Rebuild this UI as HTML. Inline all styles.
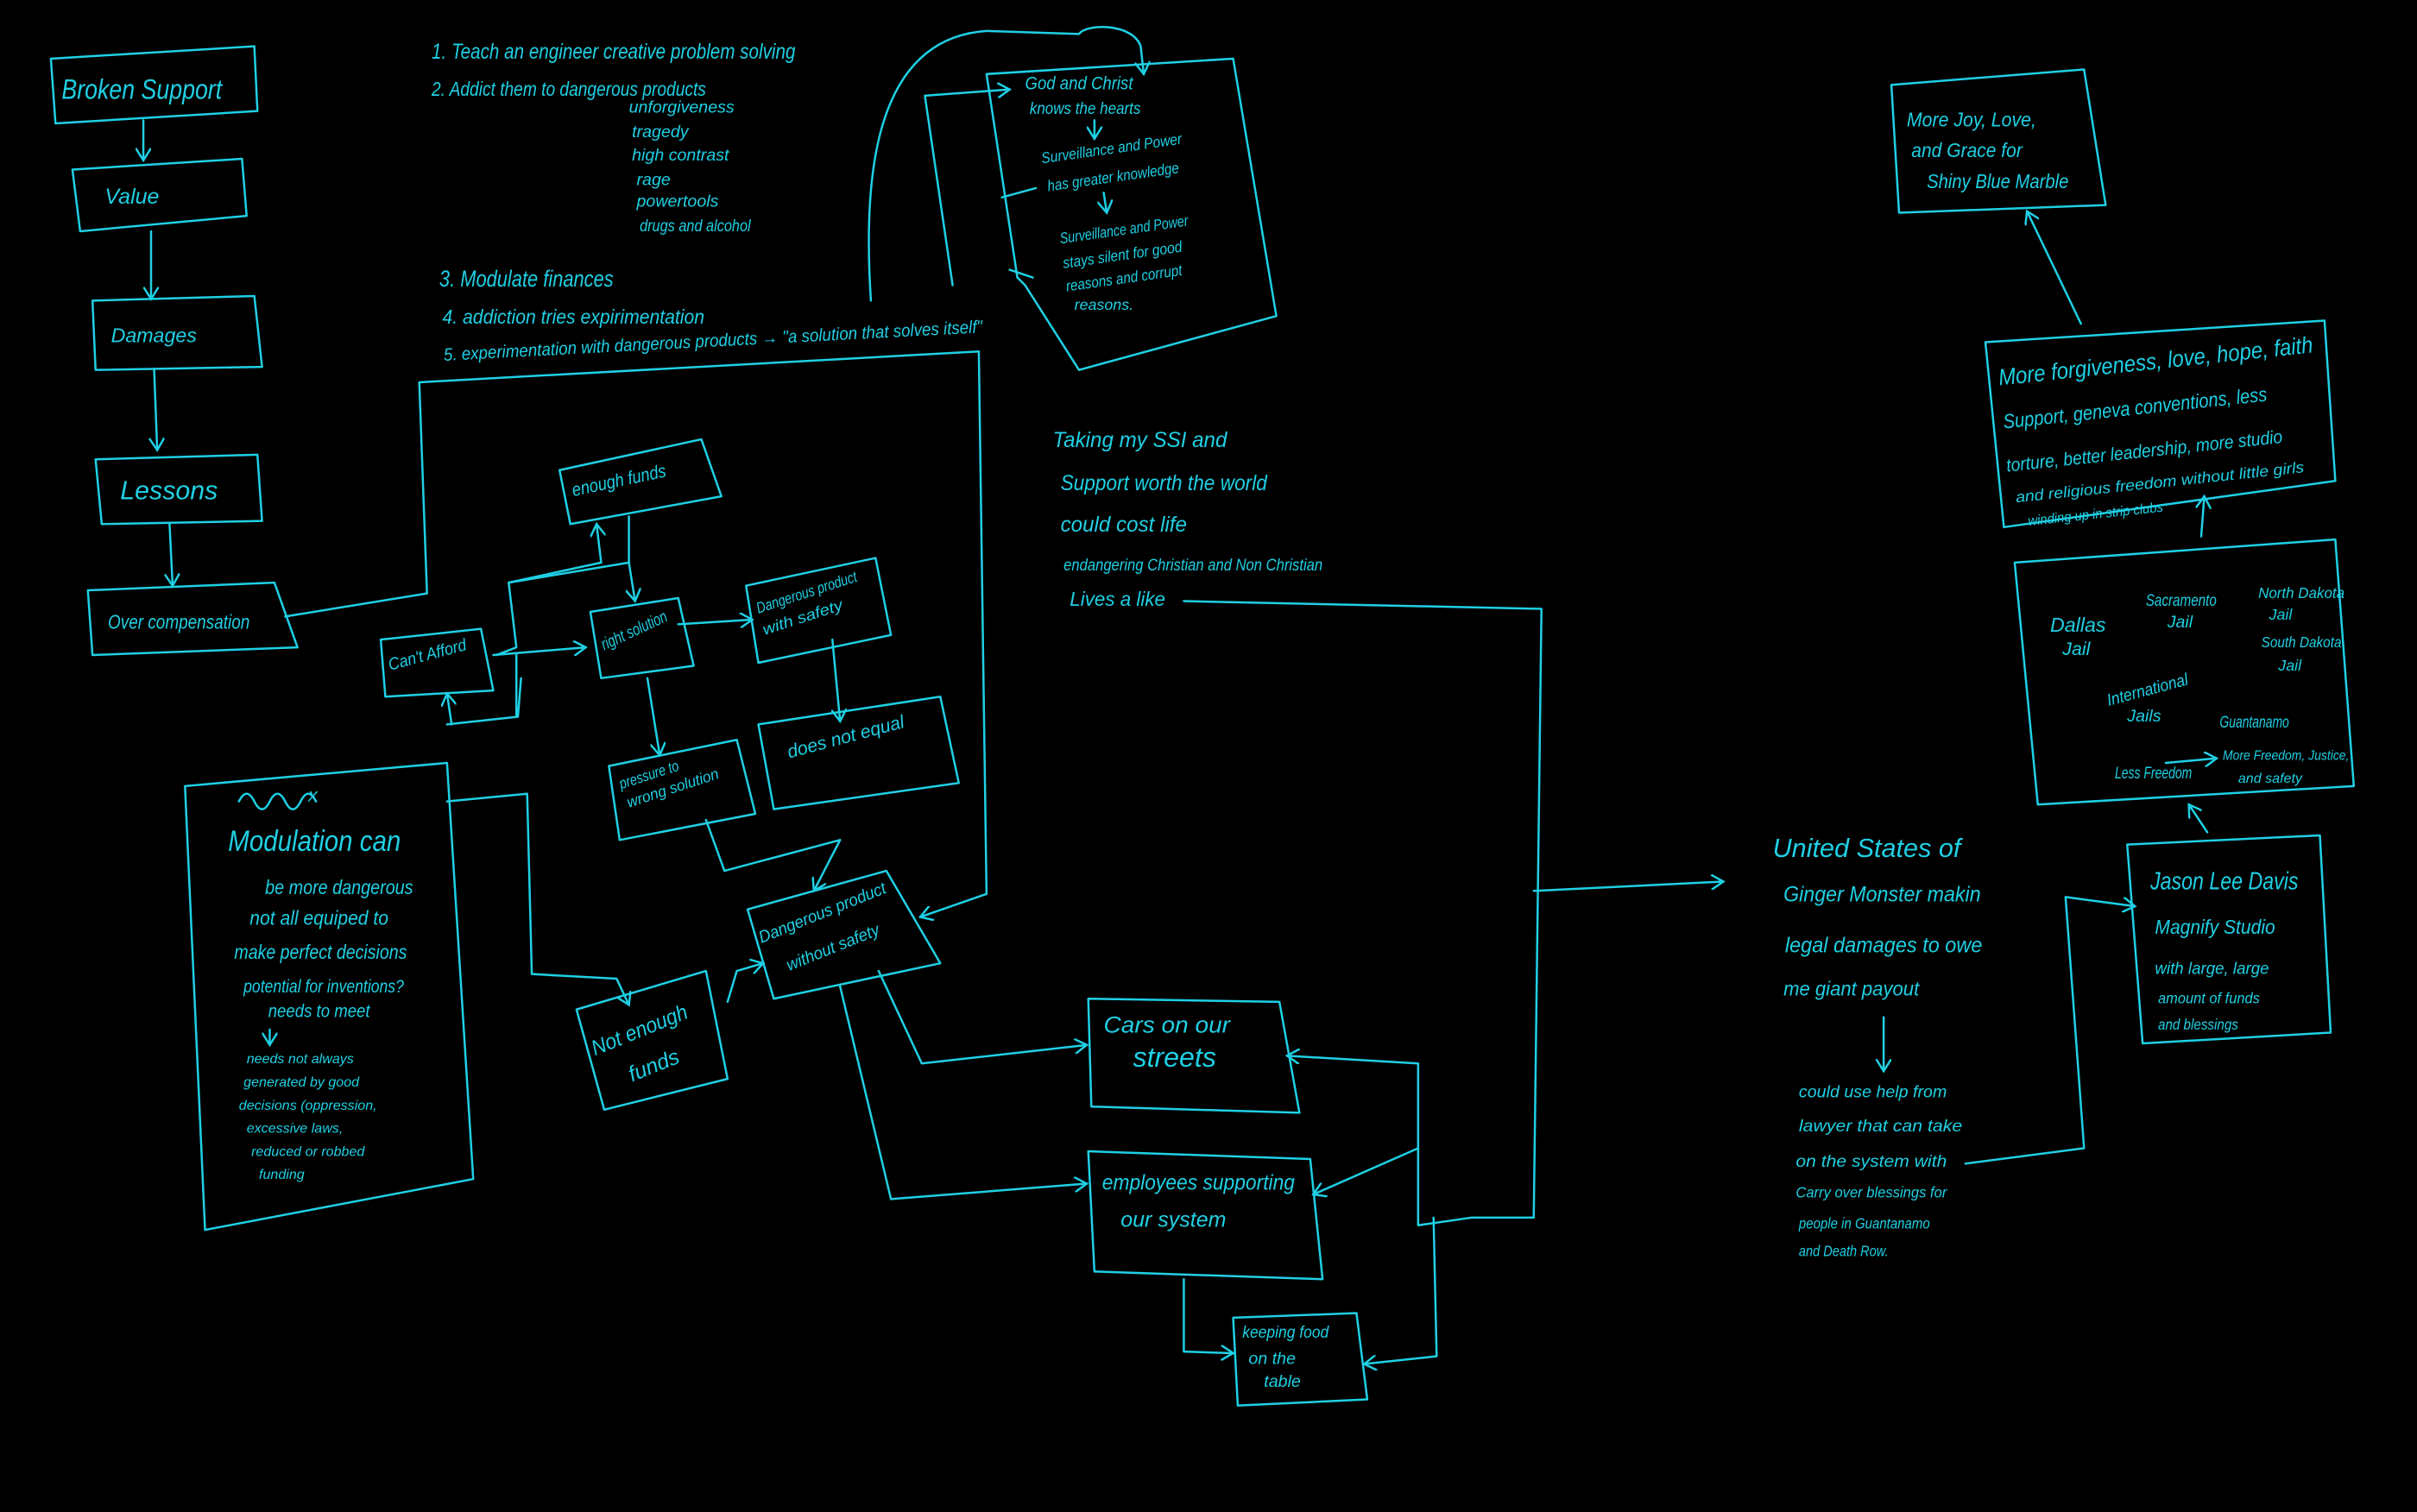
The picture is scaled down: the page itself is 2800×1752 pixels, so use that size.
<!DOCTYPE html>
<html><head><meta charset="utf-8"><style>
html,body{margin:0;padding:0;background:#000;}
svg{display:block}
text{font-family:"Liberation Sans",sans-serif;fill:#1fd0e4;font-style:italic}
.l{fill:none;stroke:#1fd0e4;stroke-width:1.4;stroke-linejoin:round;stroke-linecap:round}
</style></head><body>
<svg width="2800" height="1752" viewBox="0 0 1568 981" xmlns="http://www.w3.org/2000/svg">
<defs><marker id="a" markerWidth="10" markerHeight="10" refX="8" refY="5" orient="auto" markerUnits="userSpaceOnUse"><path d="M0,0 L8,5 L0,10" fill="none" stroke="#1fd0e4" stroke-width="1.4"/></marker></defs>
<rect width="1568" height="981" fill="#000"/>
<g class="l">
<path d="M33,38 L165,30 L167,72 L36,80 Z"/>
<path d="M47,110 L157,103 L160,140 L52,150 Z"/>
<path d="M60,195 L165,192 L170,238 L62,240 Z"/>
<path d="M62,298 L167,295 L170,338 L66,340 Z"/>
<path d="M57,383 L178,378 L193,420 L60,425 Z"/>
<path d="M93,78 L93,104" marker-end="url(#a)"/>
<path d="M98,150 L98,194" marker-end="url(#a)"/>
<path d="M100,240 L102,292" marker-end="url(#a)"/>
<path d="M110,340 L112,380" marker-end="url(#a)"/>
<path d="M185,400 L277,385 L272,248 L635,228 L640,580 L597,595" marker-end="url(#a)"/>
<path d="M640,48 L800,38 L828,205 L700,240 L665,185 L660,180 Z"/>
<path d="M565,195 C560,120 565,25 640,20 L700,22 C705,15 735,15 740,30 L742,48" marker-end="url(#a)"/>
<path d="M618,185 L600,62 L655,58" marker-end="url(#a)"/>
<path d="M710,78 L710,90" marker-end="url(#a)"/>
<path d="M716,125 L718,138" marker-end="url(#a)"/>
<path d="M650,128 L672,122"/>
<path d="M655,175 L670,180"/>
<path d="M363,305 L455,285 L468,322 L370,340 Z"/>
<path d="M383,397 L440,388 L450,432 L390,440 Z"/>
<path d="M484,380 L568,362 L578,412 L492,430 Z"/>
<path d="M247,415 L312,408 L320,448 L250,452 Z"/>
<path d="M492,470 L610,452 L622,508 L502,525 Z"/>
<path d="M395,497 L478,480 L490,528 L402,545 Z"/>
<path d="M485,590 L575,565 L610,625 L502,648 Z"/>
<path d="M374,655 L458,630 L472,700 L392,720 Z"/>
<path d="M706,648 L830,650 L843,722 L708,718 Z"/>
<path d="M706,747 L850,752 L858,830 L710,825 Z"/>
<path d="M800,855 L880,852 L887,908 L803,912 Z"/>
<path d="M120,510 L290,495 L307,765 L133,798 Z"/>
<path d="M408,335 L408,365 L330,378 L335,420 L322,425" />
<path d="M408,365 L412,390" marker-end="url(#a)"/>
<path d="M330,378 L390,365 L387,340" marker-end="url(#a)"/>
<path d="M320,425 L380,420" marker-end="url(#a)"/>
<path d="M440,405 L488,402" marker-end="url(#a)"/>
<path d="M540,415 L545,468" marker-end="url(#a)"/>
<path d="M420,440 L428,490" marker-end="url(#a)"/>
<path d="M458,532 L470,565 L545,545 L528,578" marker-end="url(#a)"/>
<path d="M290,470 L336,465 L338,440 M335,465 L335,425"/>
<path d="M293,470 L290,450" marker-end="url(#a)"/>
<path d="M290,520 L342,515 L345,632 L400,635 L408,652" marker-end="url(#a)"/>
<path d="M472,650 L478,630 L495,625" marker-end="url(#a)"/>
<path d="M570,630 L598,690 L705,678" marker-end="url(#a)"/>
<path d="M545,640 L578,778 L705,768" marker-end="url(#a)"/>
<path d="M768,830 L768,877 L800,878" marker-end="url(#a)"/>
<path d="M768,390 L1000,395 L995,790 L955,790"/>
<path d="M955,790 L920,795 L920,690 L835,685" marker-end="url(#a)"/>
<path d="M920,745 L852,775" marker-end="url(#a)"/>
<path d="M930,790 L932,880 L885,885" marker-end="url(#a)"/>
<path d="M995,578 L1118,572" marker-end="url(#a)"/>
<path d="M1227,55 L1352,45 L1366,133 L1232,138 Z"/>
<path d="M1288,222 L1508,208 L1515,312 L1300,342 Z"/>
<path d="M1307,365 L1515,350 L1527,510 L1322,522 Z"/>
<path d="M1380,548 L1505,542 L1512,670 L1390,677 Z"/>
<path d="M1350,210 L1315,137" marker-end="url(#a)"/>
<path d="M1428,348 L1430,322" marker-end="url(#a)"/>
<path d="M1432,540 L1420,522" marker-end="url(#a)"/>
<path d="M1405,495 L1438,492" marker-end="url(#a)"/>
<path d="M1275,755 L1352,745 L1340,582 L1385,588" marker-end="url(#a)"/>
<path d="M1222,660 L1222,695" marker-end="url(#a)"/>
<path d="M155,520 q5,-10 10,0 q5,10 10,0 q5,-10 10,0 q5,10 10,0 q5,-10 10,0"/>
<path d="M175,668 L175,678" marker-end="url(#a)"/>
</g>
<g font-size="11" lengthAdjust="spacingAndGlyphs">
<text x="40" y="64" font-size="18" textLength="104" lengthAdjust="spacingAndGlyphs">Broken Support</text>
<text x="68" y="132" font-size="14">Value</text>
<text x="72" y="222" font-size="13">Damages</text>
<text x="78" y="324" font-size="17">Lessons</text>
<text x="70" y="408" font-size="13" textLength="92" lengthAdjust="spacingAndGlyphs">Over compensation</text>
<text x="280" y="38" font-size="14" textLength="236" lengthAdjust="spacingAndGlyphs">1. Teach an engineer creative problem solving</text>
<text x="280" y="62" font-size="13" textLength="178" lengthAdjust="spacingAndGlyphs">2. Addict them to dangerous products</text>
<text x="408" y="73">unforgiveness</text>
<text x="410" y="89">tragedy</text>
<text x="410" y="104">high contrast</text>
<text x="413" y="120">rage</text>
<text x="413" y="134">powertools</text>
<text x="415" y="150" textLength="72" lengthAdjust="spacingAndGlyphs">drugs and alcohol</text>
<text x="285" y="186" font-size="15" textLength="113" lengthAdjust="spacingAndGlyphs">3. Modulate finances</text>
<text x="287" y="210" font-size="13" textLength="170" lengthAdjust="spacingAndGlyphs">4. addiction tries expirimentation</text>
<text x="288" y="234" font-size="11.5" transform="rotate(-3 288 234)" textLength="350" lengthAdjust="spacingAndGlyphs">5. experimentation with dangerous products → "a solution that solves itself"</text>
<text x="665" y="58" font-size="12" textLength="70" lengthAdjust="spacingAndGlyphs">God and Christ</text>
<text x="668" y="74" font-size="11" textLength="72" lengthAdjust="spacingAndGlyphs">knows the hearts</text>
<text x="676" y="106" font-size="10" transform="rotate(-8 676 106)" textLength="92" lengthAdjust="spacingAndGlyphs">Surveillance and Power</text>
<text x="680" y="124" font-size="10" transform="rotate(-8 680 124)" textLength="86" lengthAdjust="spacingAndGlyphs">has greater knowledge</text>
<text x="688" y="158" font-size="10" transform="rotate(-8 688 158)" textLength="84" lengthAdjust="spacingAndGlyphs">Surveillance and Power</text>
<text x="690" y="174" font-size="10" transform="rotate(-8 690 174)" textLength="78" lengthAdjust="spacingAndGlyphs">stays silent for good</text>
<text x="692" y="189" font-size="10" transform="rotate(-8 692 189)" textLength="76" lengthAdjust="spacingAndGlyphs">reasons and corrupt</text>
<text x="697" y="201" font-size="10">reasons.</text>
<text x="683" y="290" font-size="14" textLength="113" lengthAdjust="spacingAndGlyphs">Taking my SSI and</text>
<text x="688" y="318" font-size="14" textLength="134" lengthAdjust="spacingAndGlyphs">Support worth the world</text>
<text x="688" y="345" font-size="14" textLength="82" lengthAdjust="spacingAndGlyphs">could cost life</text>
<text x="690" y="370" font-size="11" textLength="168" lengthAdjust="spacingAndGlyphs">endangering Christian and Non Christian</text>
<text x="694" y="393" font-size="13" textLength="62" lengthAdjust="spacingAndGlyphs">Lives a like</text>
<text x="372" y="322" font-size="12" transform="rotate(-12 372 322)" textLength="62" lengthAdjust="spacingAndGlyphs">enough funds</text>
<text x="392" y="422" font-size="11" transform="rotate(-25 392 422)" textLength="46" lengthAdjust="spacingAndGlyphs">right solution</text>
<text x="492" y="398" font-size="10" transform="rotate(-18 492 398)" textLength="68" lengthAdjust="spacingAndGlyphs">Dangerous product</text>
<text x="496" y="412" font-size="10" transform="rotate(-18 496 412)" textLength="54" lengthAdjust="spacingAndGlyphs">with safety</text>
<text x="253" y="435" font-size="11" transform="rotate(-15 253 435)" textLength="52" lengthAdjust="spacingAndGlyphs">Can't Afford</text>
<text x="512" y="492" font-size="12" transform="rotate(-15 512 492)" textLength="78" lengthAdjust="spacingAndGlyphs">does not equal</text>
<text x="403" y="512" font-size="10" transform="rotate(-18 403 512)" textLength="40" lengthAdjust="spacingAndGlyphs">pressure to</text>
<text x="408" y="524" font-size="10" transform="rotate(-18 408 524)" textLength="62" lengthAdjust="spacingAndGlyphs">wrong solution</text>
<text x="494" y="612" font-size="11" transform="rotate(-22 494 612)" textLength="88" lengthAdjust="spacingAndGlyphs">Dangerous product</text>
<text x="512" y="630" font-size="11" transform="rotate(-22 512 630)" textLength="64" lengthAdjust="spacingAndGlyphs">without safety</text>
<text x="386" y="685" font-size="14" transform="rotate(-22 386 685)" textLength="66" lengthAdjust="spacingAndGlyphs">Not enough</text>
<text x="410" y="702" font-size="14" transform="rotate(-22 410 702)">funds</text>
<text x="716" y="670" font-size="15" textLength="82" lengthAdjust="spacingAndGlyphs">Cars on our</text>
<text x="735" y="692" font-size="18">streets</text>
<text x="715" y="772" font-size="14" textLength="125" lengthAdjust="spacingAndGlyphs">employees supporting</text>
<text x="727" y="796" font-size="14">our system</text>
<text x="806" y="868" font-size="11" textLength="56" lengthAdjust="spacingAndGlyphs">keeping food</text>
<text x="810" y="885" font-size="11">on the</text>
<text x="820" y="900" font-size="11">table</text>
<text x="148" y="552" font-size="19" textLength="112" lengthAdjust="spacingAndGlyphs">Modulation can</text>
<text x="172" y="580" font-size="13" textLength="96" lengthAdjust="spacingAndGlyphs">be more dangerous</text>
<text x="162" y="600" font-size="13" textLength="90" lengthAdjust="spacingAndGlyphs">not all equiped to</text>
<text x="152" y="622" font-size="13" textLength="112" lengthAdjust="spacingAndGlyphs">make perfect decisions</text>
<text x="158" y="644" font-size="12" textLength="104" lengthAdjust="spacingAndGlyphs">potential for inventions?</text>
<text x="174" y="660" font-size="12" textLength="66" lengthAdjust="spacingAndGlyphs">needs to meet</text>
<text x="160" y="690" font-size="9">needs not always</text>
<text x="158" y="705" font-size="9">generated by good</text>
<text x="155" y="720" font-size="9">decisions (oppression,</text>
<text x="160" y="735" font-size="9">excessive laws,</text>
<text x="163" y="750" font-size="9">reduced or robbed</text>
<text x="168" y="765" font-size="9">funding</text>
<text x="200" y="520" font-size="12">x</text>
<text x="1150" y="556" font-size="17" textLength="122" lengthAdjust="spacingAndGlyphs">United States of</text>
<text x="1157" y="585" font-size="14" textLength="128" lengthAdjust="spacingAndGlyphs">Ginger Monster makin</text>
<text x="1158" y="618" font-size="14" textLength="128" lengthAdjust="spacingAndGlyphs">legal damages to owe</text>
<text x="1157" y="646" font-size="13" textLength="88" lengthAdjust="spacingAndGlyphs">me giant payout</text>
<text x="1167" y="712" font-size="11" textLength="96" lengthAdjust="spacingAndGlyphs">could use help from</text>
<text x="1167" y="734" font-size="11" textLength="106" lengthAdjust="spacingAndGlyphs">lawyer that can take</text>
<text x="1165" y="757" font-size="11" textLength="98" lengthAdjust="spacingAndGlyphs">on the system with</text>
<text x="1165" y="777" font-size="10" textLength="98" lengthAdjust="spacingAndGlyphs">Carry over blessings for</text>
<text x="1167" y="797" font-size="10" textLength="85" lengthAdjust="spacingAndGlyphs">people in Guantanamo</text>
<text x="1167" y="815" font-size="10" textLength="58" lengthAdjust="spacingAndGlyphs">and Death Row.</text>
<text x="1395" y="577" font-size="16" textLength="96" lengthAdjust="spacingAndGlyphs">Jason Lee Davis</text>
<text x="1398" y="606" font-size="13" textLength="78" lengthAdjust="spacingAndGlyphs">Magnify Studio</text>
<text x="1398" y="632" font-size="11" textLength="74" lengthAdjust="spacingAndGlyphs">with large, large</text>
<text x="1400" y="651" font-size="10" textLength="66" lengthAdjust="spacingAndGlyphs">amount of funds</text>
<text x="1400" y="668" font-size="10" textLength="52" lengthAdjust="spacingAndGlyphs">and blessings</text>
<text x="1330" y="410" font-size="13">Dallas</text>
<text x="1338" y="425" font-size="12">Jail</text>
<text x="1392" y="393" font-size="11" textLength="46" lengthAdjust="spacingAndGlyphs">Sacramento</text>
<text x="1406" y="407" font-size="11">Jail</text>
<text x="1465" y="388" font-size="10" textLength="56" lengthAdjust="spacingAndGlyphs">North Dakota</text>
<text x="1472" y="402" font-size="10">Jail</text>
<text x="1467" y="420" font-size="10" textLength="52" lengthAdjust="spacingAndGlyphs">South Dakota</text>
<text x="1478" y="435" font-size="10">Jail</text>
<text x="1368" y="458" font-size="11" transform="rotate(-15 1368 458)" textLength="54" lengthAdjust="spacingAndGlyphs">International</text>
<text x="1380" y="468" font-size="11">Jails</text>
<text x="1440" y="472" font-size="11" textLength="45" lengthAdjust="spacingAndGlyphs">Guantanamo</text>
<text x="1372" y="505" font-size="11" textLength="50" lengthAdjust="spacingAndGlyphs">Less Freedom</text>
<text x="1442" y="493" font-size="9" textLength="82" lengthAdjust="spacingAndGlyphs">More Freedom, Justice,</text>
<text x="1452" y="508" font-size="9">and safety</text>
<text x="1297" y="250" font-size="15" transform="rotate(-6 1297 250)" textLength="205" lengthAdjust="spacingAndGlyphs">More forgiveness, love, hope, faith</text>
<text x="1300" y="278" font-size="13" transform="rotate(-6 1300 278)" textLength="172" lengthAdjust="spacingAndGlyphs">Support, geneva conventions, less</text>
<text x="1302" y="306" font-size="12" transform="rotate(-6 1302 306)" textLength="180" lengthAdjust="spacingAndGlyphs">torture, better leadership, more studio</text>
<text x="1308" y="326" font-size="10" transform="rotate(-6 1308 326)" textLength="188" lengthAdjust="spacingAndGlyphs">and religious freedom without little girls</text>
<text x="1316" y="341" font-size="9" transform="rotate(-6 1316 341)" textLength="88" lengthAdjust="spacingAndGlyphs">winding up in strip clubs</text>
<text x="1237" y="82" font-size="13" textLength="84" lengthAdjust="spacingAndGlyphs">More Joy, Love,</text>
<text x="1240" y="102" font-size="13" textLength="72" lengthAdjust="spacingAndGlyphs">and Grace for</text>
<text x="1250" y="122" font-size="13" textLength="92" lengthAdjust="spacingAndGlyphs">Shiny Blue Marble</text>
</g>
</svg>
</body></html>
